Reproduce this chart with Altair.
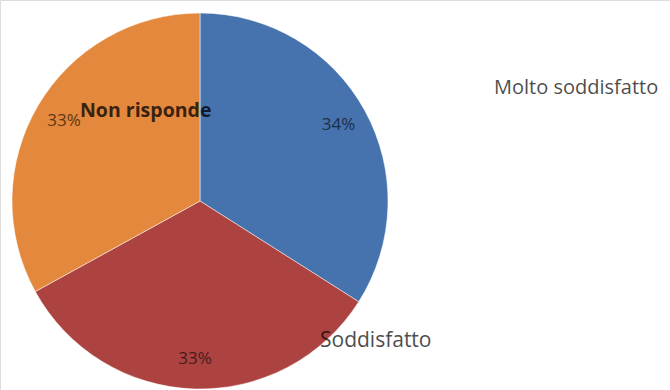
import altair as alt
import pandas as pd

categories = ["Molto soddisfatto", "Soddisfatto", "Non risponde"]
values = [34, 33, 33]
pct_labels = ["34%", "33%", "33%"]
colors = ["#4673ad", "#ad4341", "#e3883c"]

df = pd.DataFrame({"cat": categories, "val": values, "pct": pct_labels,
                   "order": list(range(len(categories)))})

CX, CY, R = 200, 201, 188
FONT = "Open Sans"

base = alt.Chart(df).encode(
    theta=alt.Theta("val:Q", stack=True),
    order=alt.Order("order:Q"),
    x=alt.value(CX), y=alt.value(CY),
)

pie = base.mark_arc(radius=R, stroke="#ffffff", strokeWidth=0.5).encode(
    color=alt.Color("cat:N", scale=alt.Scale(domain=categories, range=colors), legend=None)
)

pct = base.mark_text(radius=158, font=FONT, fontSize=17, fill="#000000", opacity=0.6).encode(
    text="pct:N"
)

def annot(name, x, y, size, bold=False, opacity=0.7):
    return alt.Chart(df).transform_filter(alt.datum.cat == name).mark_text(
        font=FONT, fontSize=size, fontWeight="bold" if bold else "normal",
        align="left", baseline="middle", fill="#000000", opacity=opacity
    ).encode(text="cat:N", x=alt.value(x), y=alt.value(y))

lab1 = annot("Molto soddisfatto", 494, 88, 20)
lab2 = annot("Soddisfatto", 320, 341, 21)
lab3 = annot("Non risponde", 80, 111, 19.5, bold=True, opacity=0.75)

chart = alt.layer(pie, pct, lab1, lab2, lab3).properties(
    width=670, height=390, autosize=alt.AutoSizeParams(type="none"), padding=0
).configure_view(stroke=None).configure(background="#ffffff")

chart.save("out.html", embed_options={"renderer": "svg", "actions": False})
